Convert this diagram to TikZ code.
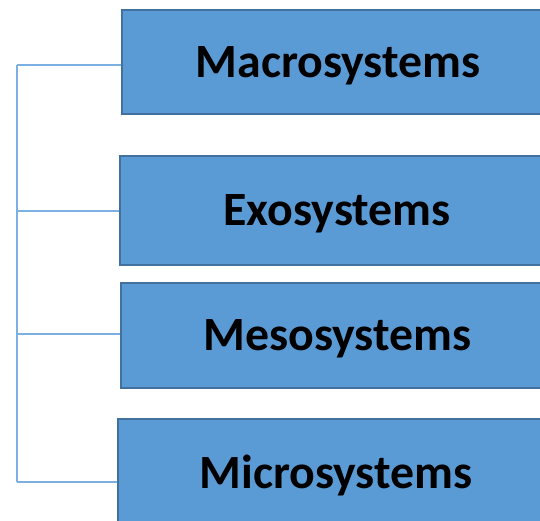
\documentclass[tikz,border=0pt]{standalone}
\usepackage{fontspec}
\setmainfont{Carlito}
\definecolor{boxfill}{HTML}{5B9BD5}
\definecolor{boxedge}{HTML}{41719C}
\definecolor{linkcol}{HTML}{7DB0E2}
\begin{document}
\begin{tikzpicture}[x=1pt,y=1pt,
  sysbox/.style={draw=boxedge, line width=2pt, fill=boxfill, anchor=north west,
    inner sep=0pt, text height=30.5pt, text depth=0pt,
    font=\fontsize{47.8}{52}\selectfont\bfseries, text=black, align=center},
  link/.style={draw=linkcol, line width=1.2pt}]
\useasboundingbox (0,0) rectangle (540,-521);
\clip (0,0) rectangle (540,-521);
\node[sysbox, minimum width=432pt, minimum height=104pt] (b1) at (121,-9) {Macrosystems};
\node[sysbox, minimum width=434pt, minimum height=109pt] (b2) at (119,-155) {Exosystems};
\node[sysbox, minimum width=433pt, minimum height=105pt] (b3) at (120,-282) {Mesosystems};
\node[sysbox, minimum width=436pt, minimum height=108pt] (b4) at (117,-418) {Microsystems};
\coordinate (s1) at (17,-65);
\coordinate (s2) at (17,-211);
\coordinate (s3) at (17,-334);
\coordinate (s4) at (17,-482);
\draw[link] (s1) -- (s4);
\draw[link] (s1) -- (s1 -| b1.west);
\draw[link] (s2) -- (s2 -| b2.west);
\draw[link] (s3) -- (s3 -| b3.west);
\draw[link] (s4) -- (s4 -| b4.west);
\end{tikzpicture}
\end{document}
